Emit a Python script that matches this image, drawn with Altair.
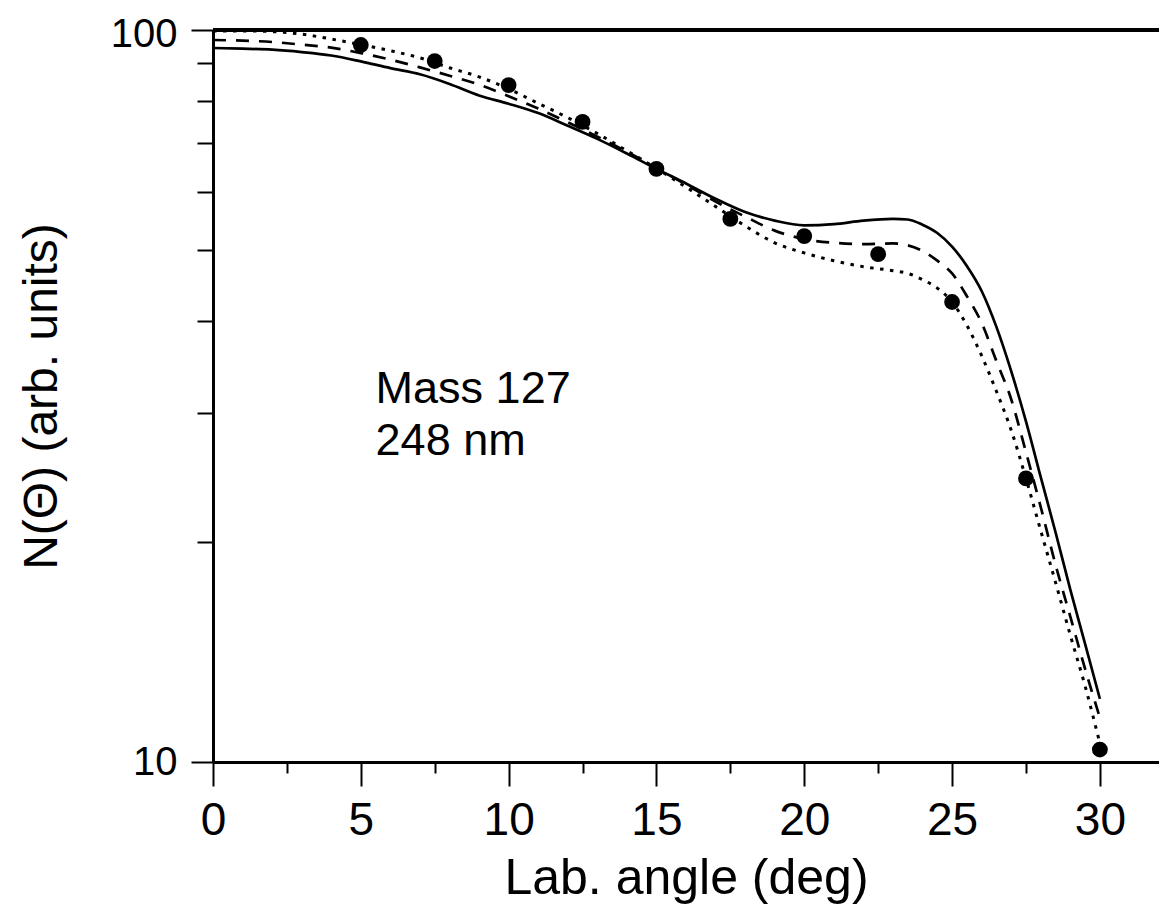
import altair as alt
import pandas as pd

# ---- data ----
angle = [0, 1, 2, 3, 4, 5, 6, 7, 8, 9, 10, 11, 12, 13, 14, 15, 16, 17, 18, 19, 20,
         21, 22, 23, 23.5, 24, 24.5, 25, 25.5, 26, 26.5, 27, 27.5, 28, 28.5, 29, 29.5, 30]
solid = [94.5, 94.3, 94.0, 93.3, 92.3, 90.6, 88.7, 87.0, 84.4, 81.4, 79.3, 77.0, 74.0,
         71.0, 67.8, 64.6, 61.7, 58.8, 56.4, 54.9, 54.1, 54.3, 54.9, 55.2, 55.1, 54.2,
         52.8, 50.6, 47.6, 44.0, 39.3, 34.2, 29.2, 24.5, 20.6, 17.2, 14.5, 12.2]
dashed = [96.9, 96.7, 96.3, 95.5, 94.6, 93.0, 91.1, 88.9, 86.6, 84.2, 81.2, 78.1, 74.8,
          71.5, 68.2, 64.8, 61.5, 58.3, 55.6, 53.2, 51.8, 51.2, 51.0, 51.1, 50.8, 49.9,
          48.4, 46.5, 43.3, 39.8, 35.3, 31.3, 26.5, 22.3, 18.6, 15.8, 13.4, 11.5]
dotted = [99.7, 99.7, 99.5, 98.7, 97.2, 95.5, 93.7, 91.6, 88.8, 86.3, 83.1, 79.4, 75.9,
          72.2, 68.4, 64.7, 61.0, 57.4, 54.0, 51.2, 49.6, 48.4, 47.5, 46.9, 46.5, 45.6,
          44.4, 42.5, 39.5, 35.9, 32.1, 28.4, 24.4, 20.7, 17.6, 14.9, 12.7, 10.6]

pt_angle = [5, 7.5, 10, 12.5, 15, 17.5, 20, 22.5, 25, 27.5, 30]
pt_value = [95.4, 90.7, 84.1, 74.9, 64.6, 55.2, 52.3, 49.4, 42.5, 24.4, 10.4]

label_text = ["Mass 127", "248 nm"]
label_x = [5.5, 5.5]
label_y = [30.9, 26.3]

x_ticks = [0, 2.5, 5, 7.5, 10, 12.5, 15, 17.5, 20, 22.5, 25, 27.5, 30]
y_ticks = [10, 20, 30, 40, 50, 60, 70, 80, 90, 100]

FONT = "Liberation Sans"
W, H = 946, 732

curves = pd.DataFrame({"angle": angle, "solid": solid, "dashed": dashed, "dotted": dotted})
points = pd.DataFrame({"angle": pt_angle, "value": pt_value})
labels = pd.DataFrame({"angle": label_x, "value": label_y, "text": label_text})

xscale = alt.Scale(domain=[0, 32], nice=False, zero=False)
yscale = alt.Scale(type="log", domain=[10, 100], nice=False)

xaxis = alt.Axis(
    values=x_ticks,
    labelExpr="datum.value % 5 === 0 ? datum.label : ''",
    tickSize={"condition": {"test": "datum.value % 5 === 0", "value": 24}, "value": 11},
    tickWidth=2, tickColor="black", domainWidth=3, domainColor="black",
    labelFont=FONT, labelFontSize=46, labelColor="black", labelPadding=12,
    title="Lab. angle (deg)", titleFont=FONT, titleFontSize=50, titleFontWeight="normal",
    titleColor="black", titlePadding=10, grid=False, labelFlush=False, labelOverlap=False,
)
yaxis = alt.Axis(
    values=y_ticks, format="d",
    labelExpr="(datum.value == 10 || datum.value == 100) ? datum.label : ''",
    tickSize={"condition": {"test": "datum.value == 10 || datum.value == 100", "value": 22}, "value": 16},
    labelOffset={"condition": {"test": "datum.value == 100", "value": 4}, "value": 0},
    tickWidth=2, tickColor="black", domainWidth=3, domainColor="black",
    labelFont=FONT, labelFontSize=40, labelColor="black", labelPadding=14,
    title="N(Θ) (arb. units)", titleFont=FONT, titleFontSize=48, titleFontWeight="normal",
    titleColor="black", titlePadding=44, grid=False, labelFlush=False, labelOverlap=False,
)

base = alt.Chart(curves)

def curve(col, dash, width):
    kw = {"strokeDash": dash} if dash else {}
    return base.mark_line(color="black", strokeWidth=width, interpolate="monotone",
                          strokeCap="butt", **kw).encode(
        x=alt.X("angle:Q", scale=xscale, axis=xaxis),
        y=alt.Y(f"{col}:Q", scale=yscale, axis=yaxis),
    )

solid_l = curve("solid", None, 2.7)
dashed_l = curve("dashed", [13, 10], 2.7)
dotted_l = curve("dotted", [3.5, 6.5], 3)

dots = alt.Chart(points).mark_circle(size=250, color="black", opacity=1).encode(
    x=alt.X("angle:Q", scale=xscale), y=alt.Y("value:Q", scale=yscale))

txt = alt.Chart(labels).mark_text(align="left", baseline="alphabetic", font=FONT,
                                  fontSize=45, color="black").encode(
    x=alt.X("angle:Q", scale=xscale), y=alt.Y("value:Q", scale=yscale), text="text:N")

top_line = alt.Chart(points).mark_rule(color="black", strokeWidth=3).encode(
    y=alt.value(0), x=alt.value(0), x2=alt.value(W))

chart = alt.layer(solid_l, dashed_l, dotted_l, dots, txt, top_line).properties(
    width=W, height=H,
    padding={"left": 205, "top": 22, "right": 0, "bottom": 160},
    autosize=alt.AutoSizeParams(type="none"),
).configure_view(stroke=None).configure(background="white")

chart.save("out.html", embed_options={"renderer": "svg", "actions": False})
